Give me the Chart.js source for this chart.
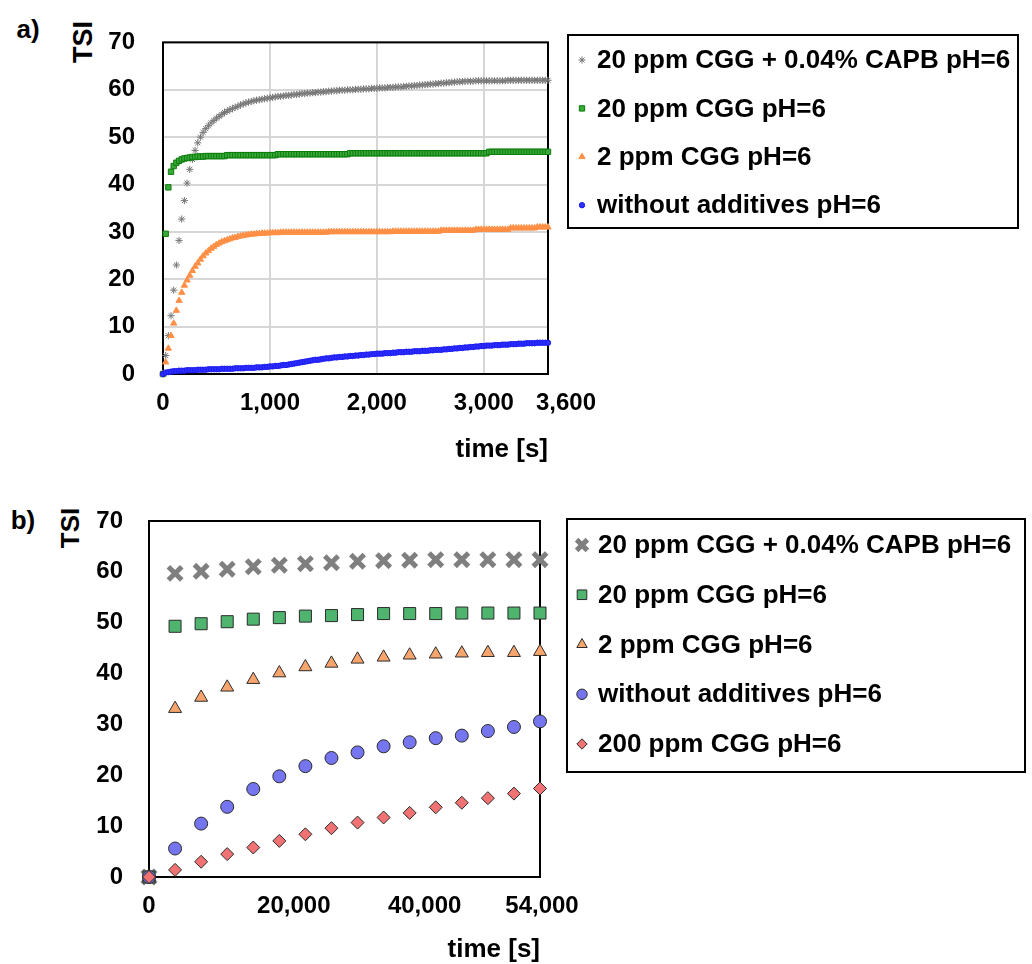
<!DOCTYPE html>
<html>
<head>
<meta charset="utf-8">
<script src="https://cdn.jsdelivr.net/npm/chart.js@4/dist/chart.umd.min.js"></script>
<style>
  body { margin: 0; width: 1032px; height: 964px; overflow: hidden; background: #fff; position: relative;
         font-family: "Liberation Sans", Arial, sans-serif; }
  canvas { position: absolute; left: 0; }
  #cA { top: 0; }
  #cB { top: 480px; }
  .lbl { position: absolute; font-weight: bold; color: #000; line-height: 1; white-space: nowrap;
         transform: translate(-50%, -50%); }
  .rot { transform: translate(-50%, -50%) rotate(-90deg); }
</style>
</head>
<body>
<div class="lbl" style="left:28px; top:29px; font-size:26px">a)</div>
<div class="lbl rot" style="left:83px; top:42px; font-size:27px">TSI</div>
<div class="lbl" style="left:23px; top:520px; font-size:26px">b)</div>
<div class="lbl rot" style="left:70px; top:528px; font-size:26px">TSI</div>
<canvas id="cA" width="1032" height="480"></canvas>
<canvas id="cB" width="1032" height="500"></canvas>
<script>
// ---------------- data, panel a (0 - 3600 s, one reading every 25 s)
var timeA = [
  0, 25, 50, 75, 100, 125, 150, 175, 200, 225, 250, 275,
  300, 325, 350, 375, 400, 425, 450, 475, 500, 525, 550, 575,
  600, 625, 650, 675, 700, 725, 750, 775, 800, 825, 850, 875,
  900, 925, 950, 975, 1000, 1025, 1050, 1075, 1100, 1125, 1150, 1175,
  1200, 1225, 1250, 1275, 1300, 1325, 1350, 1375, 1400, 1425, 1450, 1475,
  1500, 1525, 1550, 1575, 1600, 1625, 1650, 1675, 1700, 1725, 1750, 1775,
  1800, 1825, 1850, 1875, 1900, 1925, 1950, 1975, 2000, 2025, 2050, 2075,
  2100, 2125, 2150, 2175, 2200, 2225, 2250, 2275, 2300, 2325, 2350, 2375,
  2400, 2425, 2450, 2475, 2500, 2525, 2550, 2575, 2600, 2625, 2650, 2675,
  2700, 2725, 2750, 2775, 2800, 2825, 2850, 2875, 2900, 2925, 2950, 2975,
  3000, 3025, 3050, 3075, 3100, 3125, 3150, 3175, 3200, 3225, 3250, 3275,
  3300, 3325, 3350, 3375, 3400, 3425, 3450, 3475, 3500, 3525, 3550, 3575,
  3600];

var capbA = [
  0, 3.9, 8.1, 12.3, 17.7, 23.0, 28.2, 32.7, 36.6, 40.3, 43.2, 45.3,
  47.2, 48.8, 50.0, 51.0, 51.8, 52.4, 53.0, 53.5, 54.0, 54.4, 54.8, 55.2,
  55.5, 55.8, 56.0, 56.3, 56.5, 56.8, 57.0, 57.2, 57.4, 57.5, 57.7, 57.8,
  57.9, 58.0, 58.1, 58.2, 58.3, 58.4, 58.5, 58.6, 58.6, 58.7, 58.8, 58.8,
  58.9, 59.0, 59.0, 59.1, 59.2, 59.2, 59.3, 59.3, 59.4, 59.4, 59.5, 59.5,
  59.6, 59.6, 59.7, 59.7, 59.8, 59.8, 59.9, 59.9, 59.9, 60.0, 60.0, 60.0,
  60.1, 60.1, 60.1, 60.2, 60.2, 60.2, 60.3, 60.3, 60.3, 60.4, 60.4, 60.4,
  60.5, 60.5, 60.5, 60.6, 60.6, 60.6, 60.7, 60.7, 60.8, 60.8, 60.9, 60.9,
  61.0, 61.0, 61.1, 61.1, 61.2, 61.2, 61.3, 61.3, 61.4, 61.4, 61.5, 61.5,
  61.6, 61.6, 61.7, 61.7, 61.7, 61.8, 61.8, 61.8, 61.8, 61.9, 61.9, 61.9,
  61.9, 61.9, 61.9, 61.9, 61.9, 61.9, 61.9, 61.9, 61.9, 62.0, 62.0, 62.0,
  62.0, 62.0, 62.0, 62.0, 62.0, 62.0, 62.0, 62.0, 62.0, 62.0, 62.0, 62.0,
  62.0];

var cgg20A = [
  0, 29.6, 39.4, 42.7, 43.9, 44.6, 45.0, 45.3, 45.5, 45.6, 45.7, 45.8,
  45.8, 45.9, 45.9, 45.9, 46.0, 46.0, 46.0, 46.0, 46.0, 46.0, 46.0, 46.0,
  46.2, 46.2, 46.2, 46.2, 46.2, 46.2, 46.2, 46.2, 46.2, 46.2, 46.2, 46.2,
  46.2, 46.2, 46.2, 46.2, 46.2, 46.2, 46.2, 46.4, 46.4, 46.4, 46.4, 46.4,
  46.4, 46.4, 46.4, 46.4, 46.4, 46.4, 46.4, 46.4, 46.4, 46.4, 46.4, 46.4,
  46.4, 46.4, 46.4, 46.4, 46.4, 46.4, 46.4, 46.4, 46.4, 46.4, 46.6, 46.6,
  46.6, 46.6, 46.6, 46.6, 46.6, 46.6, 46.6, 46.6, 46.6, 46.6, 46.6, 46.6,
  46.6, 46.6, 46.6, 46.6, 46.6, 46.6, 46.6, 46.6, 46.6, 46.6, 46.6, 46.6,
  46.6, 46.6, 46.6, 46.6, 46.6, 46.6, 46.6, 46.6, 46.6, 46.6, 46.6, 46.6,
  46.6, 46.6, 46.6, 46.6, 46.6, 46.6, 46.6, 46.6, 46.6, 46.6, 46.6, 46.6,
  46.6, 46.6, 46.9, 46.9, 46.9, 46.9, 46.9, 46.9, 46.9, 46.9, 46.9, 46.9,
  46.9, 46.9, 46.9, 46.9, 46.9, 46.9, 46.9, 46.9, 46.9, 46.9, 46.9, 46.9,
  46.9];

var cgg2A = [
  0, 2.5, 5.4, 8.1, 10.7, 13.4, 15.5, 17.2, 18.7, 19.8, 20.8, 21.8,
  22.7, 23.4, 24.2, 24.9, 25.5, 26.0, 26.5, 26.9, 27.3, 27.6, 27.9, 28.1,
  28.3, 28.5, 28.7, 28.8, 29.0, 29.1, 29.2, 29.3, 29.4, 29.5, 29.5, 29.6,
  29.6, 29.7, 29.7, 29.7, 29.8, 29.8, 29.8, 29.8, 29.9, 29.9, 29.9, 29.9,
  29.9, 29.9, 29.9, 29.9, 29.9, 29.9, 29.9, 29.9, 29.9, 29.9, 29.9, 29.9,
  29.9, 29.9, 30.0, 30.0, 30.0, 30.0, 30.0, 30.0, 30.0, 30.0, 30.0, 30.0,
  30.0, 30.0, 30.0, 30.0, 30.0, 30.0, 30.0, 30.0, 30.0, 30.0, 30.0, 30.0,
  30.0, 30.0, 30.1, 30.1, 30.1, 30.1, 30.1, 30.1, 30.1, 30.1, 30.1, 30.1,
  30.1, 30.1, 30.1, 30.1, 30.1, 30.1, 30.1, 30.1, 30.3, 30.3, 30.3, 30.3,
  30.3, 30.3, 30.3, 30.3, 30.3, 30.3, 30.3, 30.3, 30.3, 30.5, 30.5, 30.5,
  30.5, 30.5, 30.5, 30.5, 30.5, 30.5, 30.5, 30.5, 30.5, 30.5, 30.8, 30.8,
  30.8, 30.8, 30.8, 30.8, 30.8, 30.8, 30.8, 30.8, 31.0, 31.0, 31.0, 31.0,
  31.0];

var plainA = [
  0, 0.3, 0.4, 0.5, 0.6, 0.6, 0.7, 0.7, 0.7, 0.8, 0.8, 0.8,
  0.8, 0.9, 0.9, 0.9, 0.9, 1.0, 1.0, 1.0, 1.0, 1.0, 1.1, 1.1,
  1.1, 1.1, 1.1, 1.2, 1.2, 1.2, 1.2, 1.3, 1.3, 1.3, 1.3, 1.4,
  1.4, 1.4, 1.5, 1.5, 1.6, 1.6, 1.7, 1.7, 1.8, 1.9, 1.9, 2.0,
  2.1, 2.2, 2.3, 2.4, 2.5, 2.6, 2.7, 2.8, 2.9, 3.0, 3.0, 3.1,
  3.2, 3.3, 3.3, 3.4, 3.5, 3.5, 3.6, 3.6, 3.7, 3.7, 3.8, 3.8,
  3.9, 3.9, 4.0, 4.0, 4.1, 4.1, 4.2, 4.2, 4.3, 4.3, 4.3, 4.4,
  4.4, 4.4, 4.5, 4.5, 4.6, 4.6, 4.6, 4.7, 4.7, 4.7, 4.8, 4.8,
  4.8, 4.9, 4.9, 4.9, 5.0, 5.0, 5.1, 5.1, 5.1, 5.2, 5.2, 5.3,
  5.3, 5.4, 5.4, 5.5, 5.5, 5.6, 5.6, 5.7, 5.7, 5.8, 5.8, 5.9,
  5.9, 6.0, 6.0, 6.0, 6.1, 6.1, 6.1, 6.2, 6.2, 6.2, 6.3, 6.3,
  6.3, 6.4, 6.4, 6.4, 6.5, 6.5, 6.5, 6.5, 6.6, 6.6, 6.6, 6.6,
  6.6];

var namesA = ['20 ppm CGG + 0.04% CAPB pH=6', '20 ppm CGG pH=6', '2 ppm CGG pH=6', 'without additives pH=6'];
var xTicksA = [0, 1000, 2000, 3000, 3600];

// ---------------- data, panel b (0 - 54000 s)
var timeB = [0, 3600, 7200, 10800, 14400, 18000, 21600, 25200, 28800, 32400, 36000, 39600, 43200, 46800, 50400, 54000];
var capbB = [0, 59.7, 60.1, 60.5, 61.0, 61.3, 61.6, 61.8, 62.1, 62.2, 62.3, 62.4, 62.4, 62.4, 62.4, 62.4];
var cgg20B = [0, 49.3, 49.8, 50.2, 50.7, 51.0, 51.3, 51.4, 51.6, 51.8, 51.8, 51.8, 51.9, 51.9, 51.9, 51.9];
var cgg2B = [0, 33.1, 35.3, 37.3, 38.8, 40.1, 41.3, 42.0, 42.8, 43.2, 43.6, 43.8, 44.0, 44.1, 44.1, 44.3];
var plainB = [0, 5.6, 10.5, 13.8, 17.3, 19.8, 21.8, 23.4, 24.5, 25.7, 26.5, 27.3, 27.8, 28.7, 29.5, 30.6];
var cgg200B = [0, 1.4, 3.0, 4.5, 5.8, 7.1, 8.4, 9.6, 10.7, 11.7, 12.6, 13.7, 14.6, 15.5, 16.4, 17.4];

var namesB = ['20 ppm CGG + 0.04% CAPB pH=6', '20 ppm CGG pH=6', '2 ppm CGG pH=6', 'without additives pH=6', '200 ppm CGG pH=6'];
var xTicksB = [0, 20000, 40000, 54000];
var yTicks = [0, 10, 20, 30, 40, 50, 60, 70];

// ---------------- marker looks
var looksA = [
  { shape: 'star', r: 3.6, fill: '#777777', edge: '#777777', w: 1 },
  { shape: 'rect', r: 3.8, fill: '#3aa83a', edge: '#0b7d0b', w: 1 },
  { shape: 'triangle', r: 3.6, fill: '#ff8f45', edge: '#ff8f45', w: 1 },
  { shape: 'circle', r: 2.7, fill: '#2f2fff', edge: '#1a1aee', w: 1 }
];
var looksB = [
  { shape: 'crossRot', r: 9.5, fill: '#7f7f7f', edge: '#7f7f7f', w: 5 },
  { shape: 'rect', r: 8.5, fill: '#4fb46e', edge: '#2b2b2b', w: 1 },
  { shape: 'triangle', r: 7.5, fill: '#f8a56d', edge: '#2b2b2b', w: 1 },
  { shape: 'circle', r: 6.5, fill: '#7575f0', edge: '#2b2b2b', w: 1 },
  { shape: 'rectRot', r: 6.5, fill: '#f07272', edge: '#2b2b2b', w: 1 }
];

Chart.defaults.font.family = '"Liberation Sans", Arial, sans-serif';
Chart.defaults.font.weight = 'bold';
Chart.defaults.color = '#000';

function makeSets(xs, lists, names, looks) {
  return lists.map(function (ys, i) {
    var lk = looks[i];
    return {
      label: names[i],
      data: xs.map(function (x, j) { return { x: x, y: ys[j] }; }),
      pointStyle: lk.shape,
      pointRadius: lk.r,
      backgroundColor: lk.fill,
      borderColor: lk.edge,
      borderWidth: lk.w,
      clip: false,
      order: -i            // later series on top, like the original
    };
  });
}

// black frame round the plot area
var framePlugin = {
  id: 'frame',
  beforeDatasetsDraw: function (chart) {
    var a = chart.chartArea, ctx = chart.ctx;
    ctx.save();
    ctx.strokeStyle = '#000';
    ctx.lineWidth = 2;
    ctx.strokeRect(a.left, a.top, a.right - a.left, a.bottom - a.top);
    ctx.restore();
  }
};

// the original spreads crowded x labels apart a little
var nudgePlugin = {
  id: 'nudge',
  beforeDraw: function (chart, args, o) {
    var items = chart.scales.x.getLabelItems();
    if (items._nudged) return;
    items._nudged = true;
    items.forEach(function (it, i) {
      if (o.dx[i]) it.options.translation[0] += o.dx[i];
    });
  }
};

// boxed legend to the right of the plot (the built-in one is squeezed by the layout)
var boxLegend = {
  id: 'boxLegend',
  afterDraw: function (chart, args, o) {
    var ctx = chart.ctx;
    ctx.save();
    chart.data.datasets.forEach(function (ds, i) {
      var y = o.firstY + i * o.step;
      ctx.fillStyle = ds.backgroundColor;
      ctx.strokeStyle = ds.borderColor;
      ctx.lineWidth = ds.borderWidth;
      Chart.helpers.drawPoint(ctx, {
        pointStyle: ds.pointStyle, radius: ds.pointRadius * o.scale,
        borderWidth: ds.borderWidth, rotation: 0
      }, o.markerX, y);
      ctx.fillStyle = '#000';
      ctx.font = 'bold 26px "Liberation Sans", Arial, sans-serif';
      ctx.textBaseline = 'middle';
      ctx.textAlign = 'left';
      ctx.fillText(ds.label, o.textX, y + 1);
    });
    ctx.strokeStyle = '#000';
    ctx.lineWidth = 2;
    ctx.strokeRect(o.left, o.top, o.right - o.left, o.bottom - o.top);
    ctx.restore();
  }
};

function makeChart(id, sets, o) {
  return new Chart(document.getElementById(id), {
    type: 'scatter',
    data: { datasets: sets },
    options: {
      responsive: false,
      animation: false,
      layout: { padding: { top: o.top, right: o.right, bottom: 0, left: 0 } },
      plugins: {
        legend: { display: false }, tooltip: { enabled: false },
        boxLegend: o.legend, nudge: { dx: o.dx }
      },
      scales: {
        x: {
          type: 'linear', min: 0, max: o.xMax,
          afterBuildTicks: function (s) { s.ticks = o.xTicks.map(function (v) { return { value: v }; }); },
          afterFit: function (s) { s.height = o.xHeight; },
          grid: { display: o.grid, color: '#d6d6d6', lineWidth: 2, drawTicks: false },
          border: { display: false },
          ticks: {
            padding: 15, font: { size: 24, weight: 'bold' }, color: '#000', maxRotation: 0,
            callback: function (v) { return Number(v).toLocaleString('en-US'); }
          },
          title: {
            display: true, text: 'time [s]', align: 'end', color: '#000',
            font: { size: 26, weight: 'bold', lineHeight: 1 }, padding: { top: 0, bottom: 17 }
          }
        },
        y: {
          type: 'linear', min: 0, max: 70,
          afterBuildTicks: function (s) { s.ticks = yTicks.map(function (v) { return { value: v }; }); },
          afterFit: function (s) { s.width = o.yWidth; },
          grid: { display: o.grid, color: '#d6d6d6', lineWidth: 2, drawTicks: false },
          border: { display: false },
          ticks: { padding: o.yPad, font: { size: 24, weight: 'bold' }, color: '#000' }
        }
      }
    },
    plugins: [framePlugin, nudgePlugin, boxLegend]
  });
}

makeChart('cA', makeSets(timeA, [capbA, cgg20A, cgg2A, plainA], namesA, looksA), {
  top: 35, right: 484, xMax: 3600, xTicks: xTicksA, xHeight: 106, yWidth: 163, yPad: 28, grid: true,
  dx: [0, 0, 0, 0, 18],
  legend: { left: 568, top: 35, right: 1018, bottom: 228, markerX: 582, textX: 597, firstY: 60, step: 48.4, scale: 1 }
});

makeChart('cB', makeSets(timeB, [capbB, cgg20B, cgg2B, plainB, cgg200B], namesB, looksB), {
  top: 41, right: 492, xMax: 54000, xTicks: xTicksB, xHeight: 103, yWidth: 149, yPad: 26, grid: false,
  dx: [0, 0, -14, 2],
  legend: { left: 567, top: 39, right: 1025, bottom: 292, markerX: 582, textX: 598, firstY: 65, step: 49.75, scale: 0.8 }
});
</script>
</body>
</html>
